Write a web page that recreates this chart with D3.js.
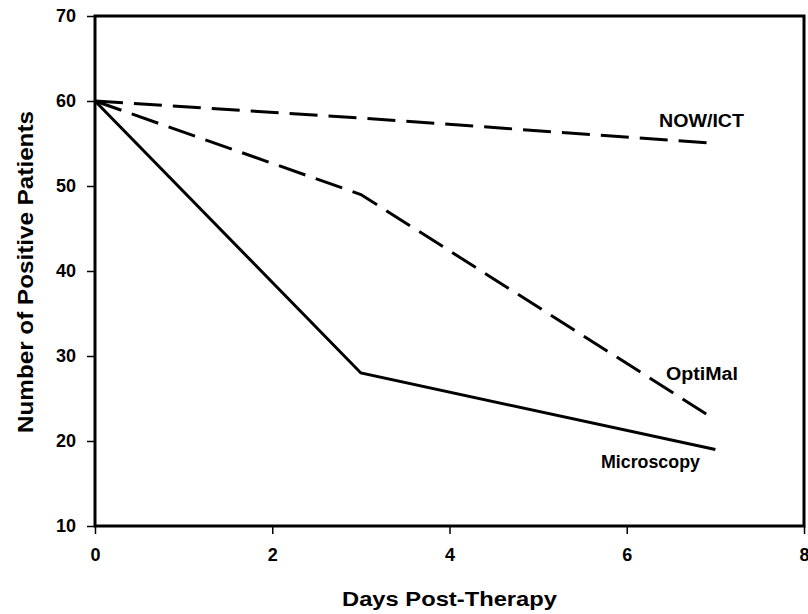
<!DOCTYPE html>
<html><head><meta charset="utf-8">
<script src="https://cdn.jsdelivr.net/npm/d3@7"></script>
<style>body{margin:0;background:#fff;} text{font-family:"Liberation Sans",Arial,sans-serif;font-weight:bold;}</style>
</head><body>
<svg id="c" width="808" height="614"></svg>
<script>
const days = [0, 3, 7];
const microscopy = [60, 28, 19];
const optimal = [60, 49, 22.5];
const nowict = [60, 58, 55];
const seriesNames = ["Microscopy", "OptiMal", "NOW/ICT"];
const xTicks = [0, 2, 4, 6, 8];
const yTicks = [10, 20, 30, 40, 50, 60, 70];

const svg = d3.select("#c");
const L = 95, R = 804, T = 16, B = 526;
const x = d3.scaleLinear().domain([0, 8]).range([L, R]);
const y = d3.scaleLinear().domain([10, 70]).range([B, T]);

// axes ticks
const xa = svg.append("g").attr("transform", `translate(0,${B})`)
  .call(d3.axisBottom(x).tickValues(xTicks).tickSize(8).tickPadding(14).tickFormat(d3.format("d")));
const ya = svg.append("g").attr("transform", `translate(${L},0)`)
  .call(d3.axisLeft(y).tickValues(yTicks).tickSize(8).tickPadding(11).tickFormat(d3.format("d")));
[xa, ya].forEach(g => {
  g.select(".domain").remove();
  g.selectAll(".tick line").attr("stroke", "#000").attr("stroke-width", 1.5);
  g.selectAll(".tick text").attr("font-size", 18).attr("fill", "#000")
    .style("font-family", "'Liberation Sans',Arial,sans-serif").style("font-weight", "bold");
});

// frame
svg.append("rect").attr("x", L).attr("y", T).attr("width", R - L).attr("height", B - T)
  .attr("fill", "none").attr("stroke", "#000").attr("stroke-width", 3);

const line = d3.line().x((d, i) => x(days[i])).y(d => y(d));
const data = [
  {name: seriesNames[0], vals: microscopy, dash: null},
  {name: seriesNames[1], vals: optimal, dash: "28,11"},
  {name: seriesNames[2], vals: nowict, dash: "28,11"}
];
data.forEach(s => {
  svg.append("path").attr("d", line(s.vals)).attr("fill", "none")
    .attr("stroke", "#000").attr("stroke-width", 3)
    .attr("stroke-dasharray", s.dash);
});

// series labels (positions in data units)
const labels = [
  {t: seriesNames[2], xv: 6.364, yv: 56.94, w: 85},
  {t: seriesNames[1], xv: 6.443, yv: 27.18, w: 72},
  {t: seriesNames[0], xv: 5.709, yv: 16.82, w: 99}
];
labels.forEach(l => {
  svg.append("text").attr("x", x(l.xv)).attr("y", y(l.yv)).attr("text-anchor", "start")
    .attr("font-size", 18).attr("textLength", l.w).attr("lengthAdjust", "spacingAndGlyphs").text(l.t);
});

svg.append("text").attr("x", 449.5).attr("y", 606).attr("text-anchor", "middle")
  .attr("font-size", 20).attr("textLength", 215).attr("lengthAdjust", "spacingAndGlyphs")
  .text("Days Post-Therapy");
svg.append("text").attr("transform", `translate(33,272) rotate(-90)`)
  .attr("text-anchor", "middle").attr("font-size", 22)
  .attr("textLength", 322).attr("lengthAdjust", "spacingAndGlyphs")
  .text("Number of Positive Patients");
</script>
</body></html>
